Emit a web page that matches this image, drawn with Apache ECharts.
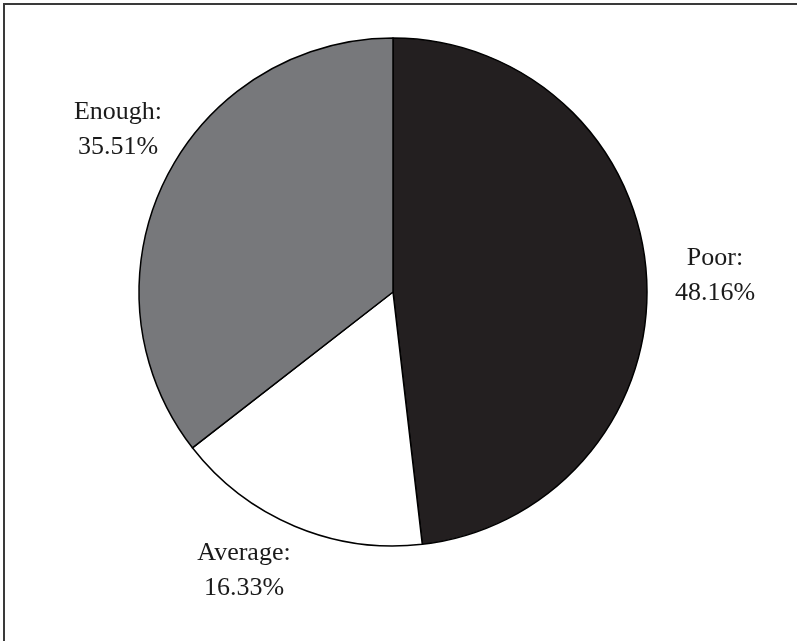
<!DOCTYPE html>
<html>
<head>
<meta charset="utf-8">
<script src="https://cdn.jsdelivr.net/npm/echarts@6/dist/echarts.min.js"></script>
<style>
html,body{margin:0;padding:0;background:#fff;}
#main{width:797px;height:641px;}
</style>
</head>
<body>
<div id="main"></div>
<script>
const categories = ['Poor', 'Average', 'Enough'];
const values = [48.16, 16.33, 35.51];
const colors = ['#231f20', '#ffffff', '#77787b'];
// label centre positions (layout only)
const labelPos = [[715, 276], [244, 571], [118, 130]];

const chart = echarts.init(document.getElementById('main'), null, {renderer: 'canvas'});
chart.setOption({
  backgroundColor: '#ffffff',
  animation: false,
  graphic: [{
    type: 'rect',
    shape: {x: 4, y: 4, width: 820, height: 700},
    style: {fill: 'none', stroke: '#3a3a3a', lineWidth: 2},
    silent: true
  }],
  series: [{
    type: 'pie',
    center: [393, 292],
    radius: [0, 254],
    startAngle: 90,
    clockwise: true,
    avoidLabelOverlap: false,
    data: categories.map((c, i) => ({
      name: c,
      value: values[i],
      itemStyle: {color: colors[i]}
    })),
    itemStyle: {borderColor: '#000000', borderWidth: 1.5},
    label: {
      show: true,
      position: 'outside',
      formatter: p => p.name + ':\n' + p.value.toFixed(2) + '%',
      fontFamily: '"Liberation Serif", "Times New Roman", serif',
      fontSize: 26,
      lineHeight: 35,
      color: '#1a1a1a',
      align: 'center'
    },
    labelLine: {show: false},
    labelLayout: params => ({
      x: labelPos[params.dataIndex][0],
      y: labelPos[params.dataIndex][1],
      align: 'center',
      verticalAlign: 'middle'
    }),
    emphasis: {disabled: true}
  }]
});
</script>
</body>
</html>
